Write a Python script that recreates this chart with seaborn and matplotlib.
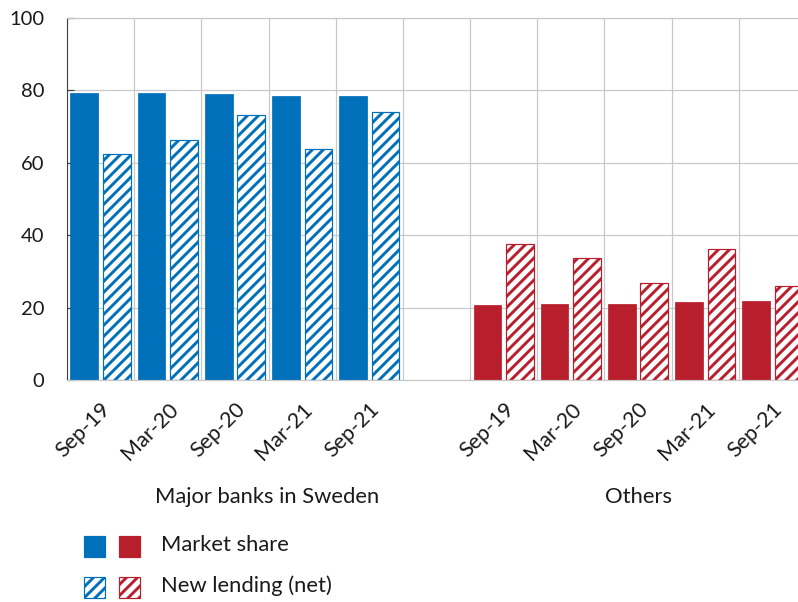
import numpy as np
import pandas as pd
import matplotlib
matplotlib.use("Agg")
import matplotlib.pyplot as plt
import seaborn as sns
from matplotlib.patches import Rectangle

# ---- data -------------------------------------------------------------
periods = ["Sep-19", "Mar-20", "Sep-20", "Mar-21", "Sep-21"]
groups = ["Major banks in Sweden", "Others"]
series = ["Market share", "New lending (net)"]

major_market_share = [79.4, 79.2, 79.0, 78.5, 78.4]
major_new_lending = [62.5, 66.2, 73.2, 63.8, 74.0]
others_market_share = [20.6, 20.9, 21.1, 21.6, 21.8]
others_new_lending = [37.5, 33.6, 26.9, 36.1, 25.9]

y_ticks = [0, 20, 40, 60, 80, 100]

# ---- style ------------------------------------------------------------
BLUE = "#0070BA"
RED = "#B81E2C"
GRID = "#C8C8C8"
AXIS_DARK = "#404040"
TEXT = "#1A1A1A"
FS_Y = 22
FS_X = 23.5
FS_TEXT = 24
HATCH = "//"

DPI = 66
W, H = 798, 602

sns.set_theme(style="white")
plt.rcParams["font.family"] = ["Lato", "DejaVu Sans"]
plt.rcParams["hatch.linewidth"] = 3.2
plt.rcParams["text.color"] = TEXT

fig = plt.figure(figsize=(W / DPI, H / DPI), dpi=DPI)
ax = fig.add_axes([67 / W, 222 / H, 739 / W, 362 / H])

# category slots: five periods per group, one empty slot between groups
left_slots = [f"{groups[0]}|{p}" for p in periods]
right_slots = [f"{groups[1]}|{p}" for p in periods]
order = left_slots + ["gap"] + right_slots

df_major = pd.DataFrame({
    "slot": left_slots * 2,
    "series": [series[0]] * 5 + [series[1]] * 5,
    "value": major_market_share + major_new_lending,
})
df_others = pd.DataFrame({
    "slot": right_slots * 2,
    "series": [series[0]] * 5 + [series[1]] * 5,
    "value": others_market_share + others_new_lending,
})

for df, color in [(df_major, BLUE), (df_others, RED)]:
    sns.barplot(data=df, x="slot", y="value", hue="series", order=order,
                hue_order=series, palette=[color, color], saturation=1,
                width=0.97, gap=0.15, errorbar=None, legend=False, ax=ax)

# solid bars for market share, hatched outline bars for new lending
for i, cont in enumerate(ax.containers):
    color = BLUE if i < 2 else RED
    for bar in cont:
        if i % 2 == 1:
            bar.set_facecolor("white")
            bar.set_edgecolor(color)
            bar.set_hatch(HATCH)
            bar.set_linewidth(1.3)
        else:
            bar.set_facecolor(color)
            bar.set_edgecolor(color)
            bar.set_linewidth(0.8)

# ---- axes -------------------------------------------------------------
ax.set_xlim(-0.5, len(order) - 0.5)
ax.set_ylim(0, 100)
ax.set_yticks(y_ticks)
ax.set_xticks(range(len(order)))
ax.set_xticklabels(periods + [""] + periods, rotation=45, ha="right",
                   va="top", rotation_mode="anchor")
ax.set_xticks(np.arange(-0.5, len(order), 1), minor=True)
ax.set_xlabel("")
ax.set_ylabel("")

ax.grid(False)
ax.yaxis.grid(True, which="major", color=GRID, linewidth=1.3)
ax.xaxis.grid(True, which="minor", color=GRID, linewidth=1.3)
ax.set_axisbelow(True)

ax.tick_params(axis="x", which="both", length=0, labelsize=FS_X, pad=21,
               labelcolor=TEXT)
ax.tick_params(axis="y", which="major", direction="in", length=7.5,
               width=1.3, color=AXIS_DARK, labelsize=FS_Y, pad=25,
               labelcolor=TEXT, left=True)

for side in ["top", "bottom"]:
    ax.spines[side].set_color(GRID)
    ax.spines[side].set_linewidth(1.3)
ax.spines["left"].set_color(AXIS_DARK)
ax.spines["left"].set_linewidth(1.2)
ax.spines["right"].set_visible(False)

# group captions
fig.text(267 / W, 1 - 497 / H, groups[0], ha="center", va="center",
         fontsize=FS_TEXT)
fig.text(638 / W, 1 - 497 / H, groups[1], ha="center", va="center",
         fontsize=FS_TEXT)

# ---- legend -----------------------------------------------------------
def legend_box(x, y_top, color, hatched):
    rect = Rectangle((x / W, 1 - (y_top + 21) / H), 21 / W, 21 / H,
                     transform=fig.transFigure,
                     facecolor="white" if hatched else color,
                     edgecolor=color, linewidth=1.3,
                     hatch=HATCH if hatched else None)
    fig.add_artist(rect)

legend_rows = [(536, series[0], False), (577, series[1], True)]
for y_top, label, hatched in legend_rows:
    legend_box(84, y_top, BLUE, hatched)
    legend_box(119, y_top, RED, hatched)
    fig.text(161 / W, 1 - (y_top + 9) / H, label, ha="left", va="center",
             fontsize=FS_TEXT)

fig.savefig("out.png", dpi=DPI)
